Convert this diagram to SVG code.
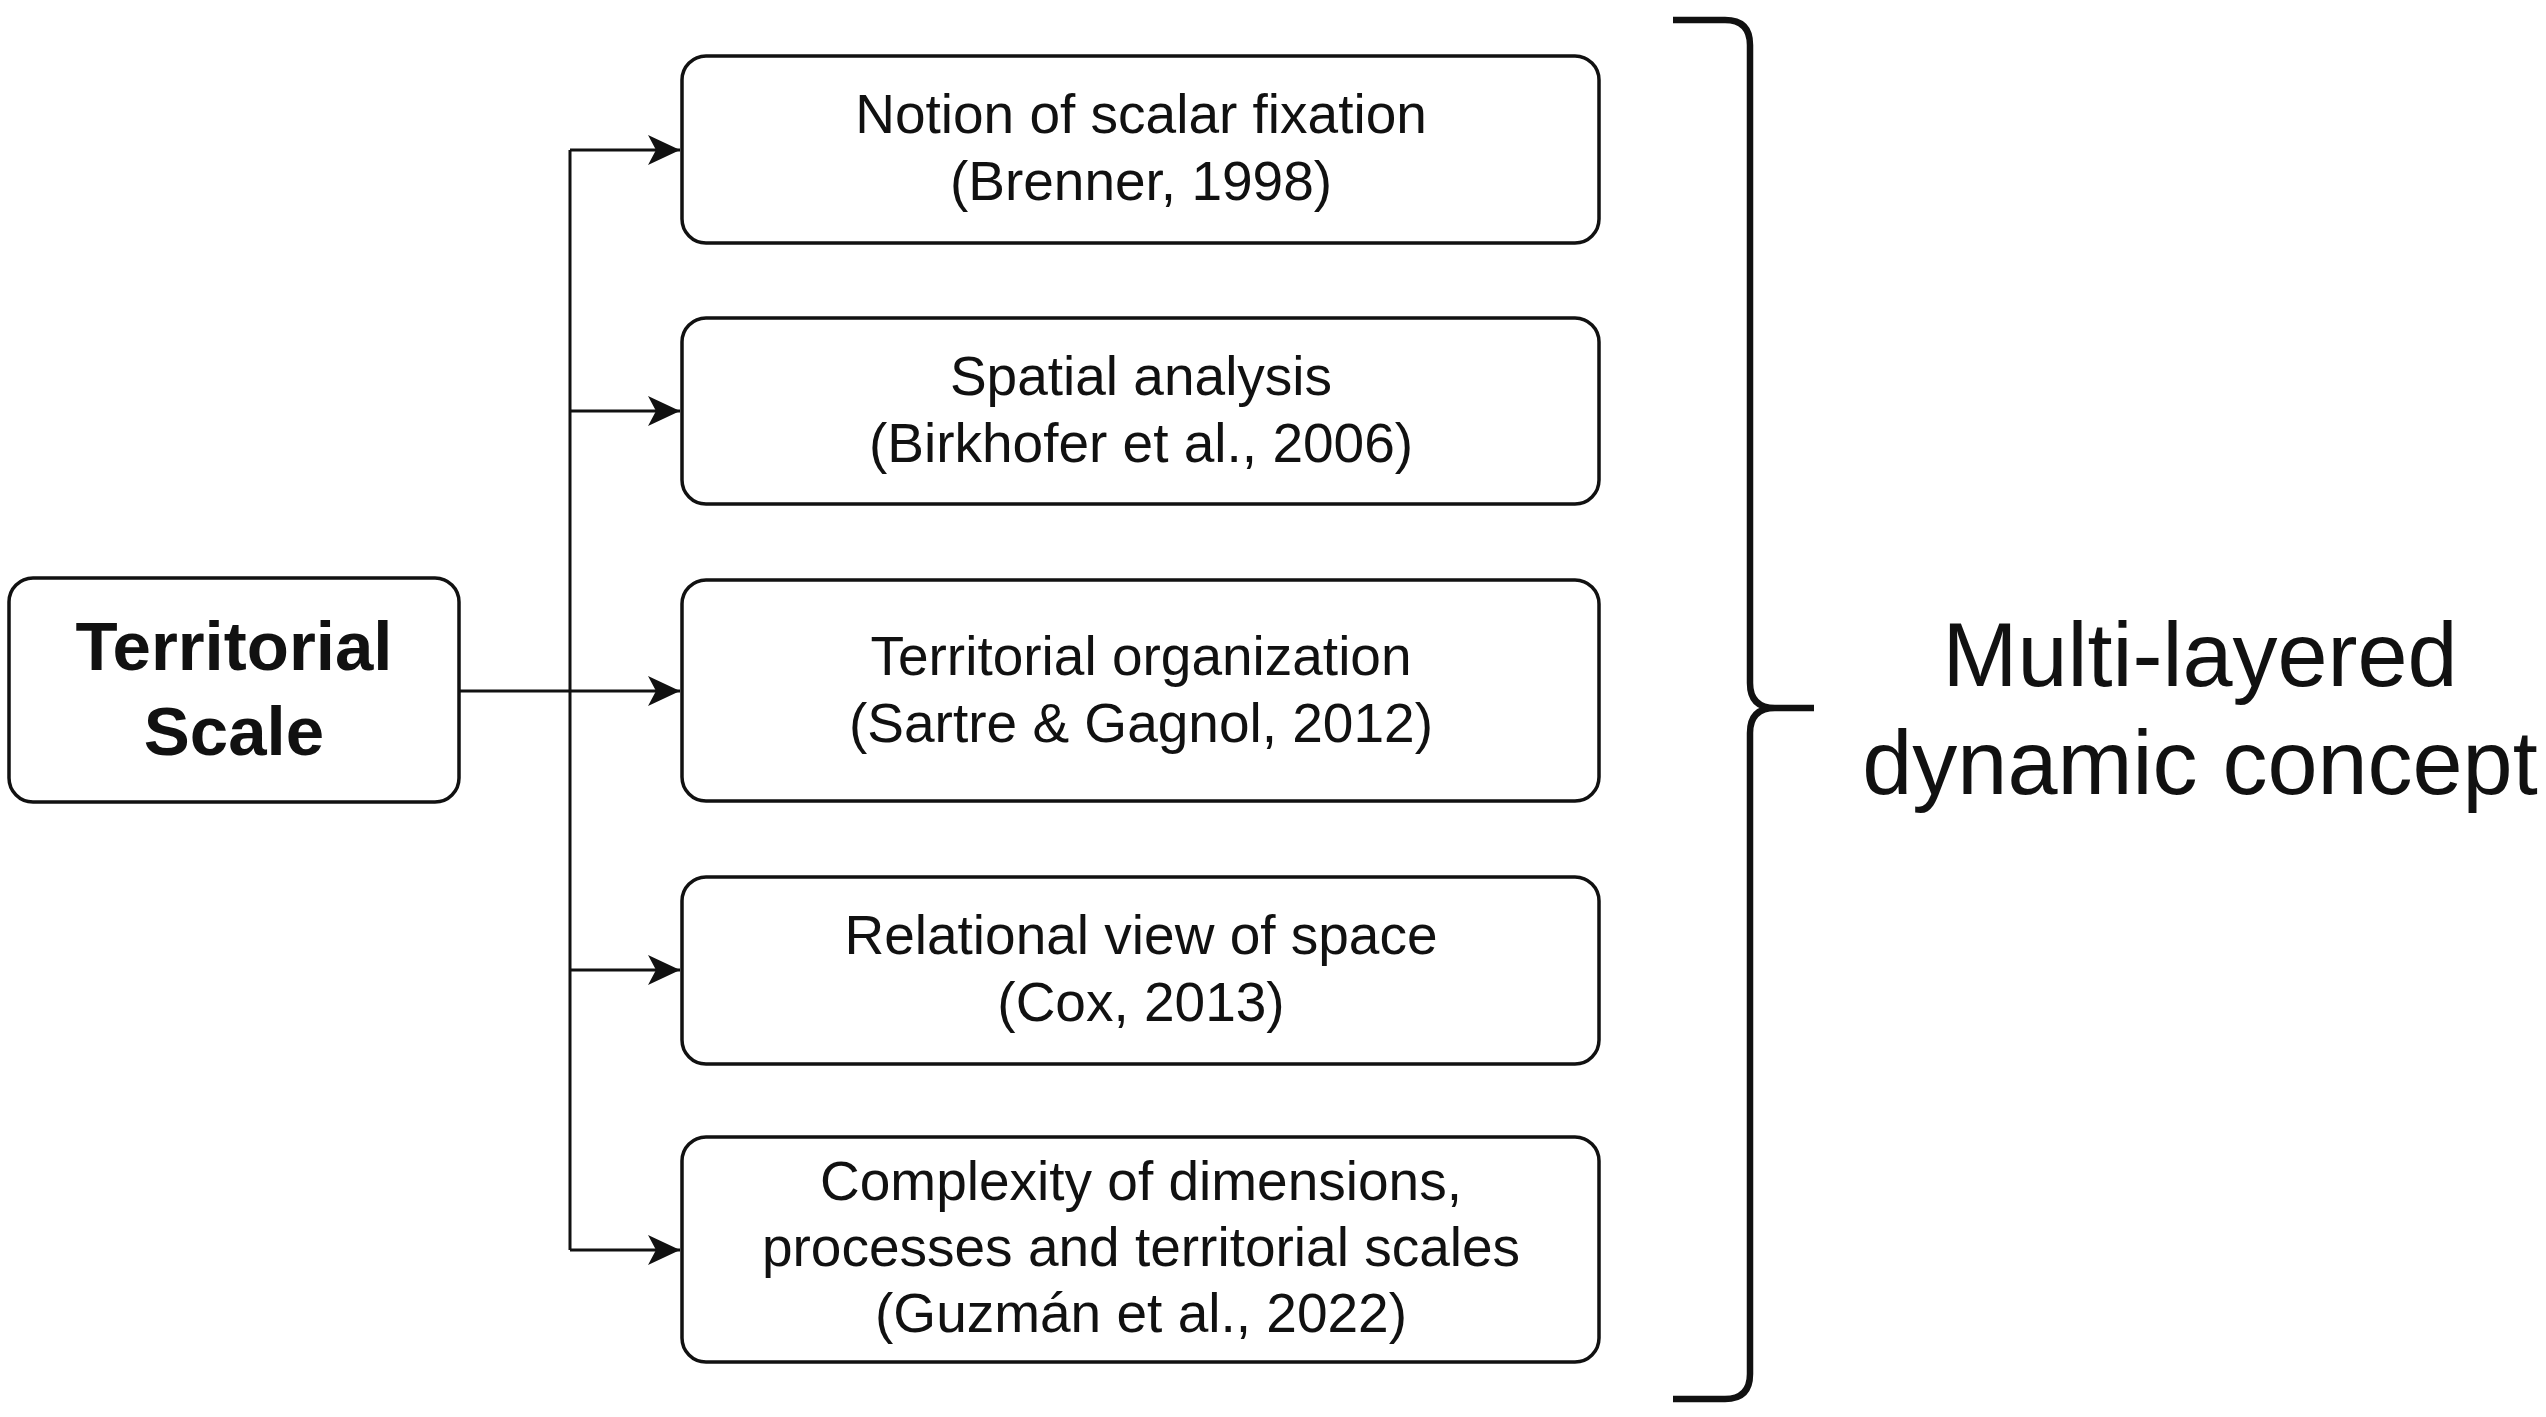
<svg xmlns="http://www.w3.org/2000/svg" width="2546" height="1417" viewBox="0 0 2546 1417">
<defs>
<style>
.box{fill:#fff;stroke:#111;stroke-width:3.5}
.t{font-family:"Liberation Sans",Arial,sans-serif;font-size:55px;fill:#111;text-anchor:middle}
.tb{font-family:"Liberation Sans",Arial,sans-serif;font-size:69px;font-weight:bold;fill:#111;text-anchor:middle}
.big{font-family:"Liberation Sans",Arial,sans-serif;font-size:90px;fill:#111;text-anchor:middle}
.conn{fill:none;stroke:#111;stroke-width:3}
</style>
<marker id="arr" markerUnits="userSpaceOnUse" markerWidth="34" markerHeight="34" viewBox="0 0 34 34" refX="32" refY="17" orient="auto">
<path d="M0,2 L32,17 L0,32 L8,17 Z" fill="#111"/>
</marker>
</defs>
<rect width="2546" height="1417" fill="#fff"/>
<g id="connectors">
<path class="conn" d="M459,691 H680" marker-end="url(#arr)"/>
<path class="conn" d="M570,150 V1250"/>
<path class="conn" d="M570,150 H680" marker-end="url(#arr)"/>
<path class="conn" d="M570,411 H680" marker-end="url(#arr)"/>
<path class="conn" d="M570,970 H680" marker-end="url(#arr)"/>
<path class="conn" d="M570,1250 H680" marker-end="url(#arr)"/>
</g>
<g id="territorial-scale">
<rect class="box" x="9" y="578" width="450" height="224" rx="24"/>
<text class="tb" x="234" y="670">Territorial</text>
<text class="tb" x="234" y="755">Scale</text>
</g>
<g id="box1">
<rect class="box" x="682" y="56" width="917" height="187" rx="24"/>
<text class="t" x="1141" y="133">Notion of scalar fixation</text>
<text class="t" x="1141" y="200">(Brenner, 1998)</text>
</g>
<g id="box2">
<rect class="box" x="682" y="318" width="917" height="186" rx="24"/>
<text class="t" x="1141" y="395">Spatial analysis</text>
<text class="t" x="1141" y="462">(Birkhofer et al., 2006)</text>
</g>
<g id="box3">
<rect class="box" x="682" y="580" width="917" height="221" rx="24"/>
<text class="t" x="1141" y="675">Territorial organization</text>
<text class="t" x="1141" y="742">(Sartre &amp; Gagnol, 2012)</text>
</g>
<g id="box4">
<rect class="box" x="682" y="877" width="917" height="187" rx="24"/>
<text class="t" x="1141" y="954">Relational view of space</text>
<text class="t" x="1141" y="1021">(Cox, 2013)</text>
</g>
<g id="box5">
<rect class="box" x="682" y="1137" width="917" height="225" rx="24"/>
<text class="t" x="1141" y="1200">Complexity of dimensions,</text>
<text class="t" x="1141" y="1266">processes and territorial scales</text>
<text class="t" x="1141" y="1332">(Guzmán et al., 2022)</text>
</g>
<g id="brace">
<path d="M1673,20 H1725 Q1750,20 1750,45 V683 Q1750,708 1775,708 H1814 M1775,708 Q1750,708 1750,733 V1374 Q1750,1399 1725,1399 H1673" fill="none" stroke="#111" stroke-width="6.5"/>
</g>
<g id="concept-label">
<text class="big" x="2200" y="686">Multi-layered</text>
<text class="big" x="2200" y="794">dynamic concept</text>
</g>
</svg>
